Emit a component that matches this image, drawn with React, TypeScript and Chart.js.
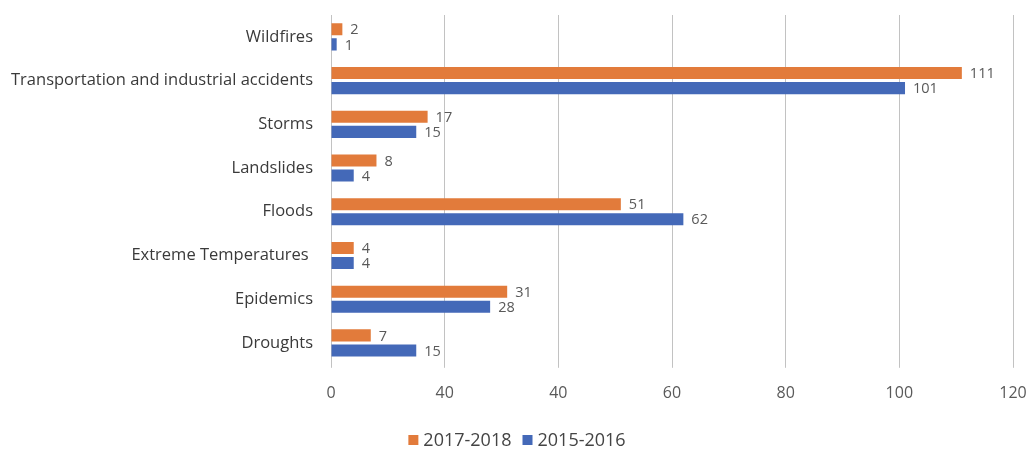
import React, { useEffect, useRef } from "react";
import { Chart, registerables } from "chart.js";

Chart.register(...registerables);

const categories = [
  "Wildfires",
  "Transportation and industrial accidents",
  "Storms",
  "Landslides",
  "Floods",
  "Extreme Temperatures ",
  "Epidemics",
  "Droughts",
];
const series2017_2018 = [2, 111, 17, 8, 51, 4, 31, 7];
const series2015_2016 = [1, 101, 15, 4, 62, 4, 28, 15];
const tickLabels = ["0", "40", "40", "60", "80", "100", "120"];
const seriesNames = ["2017-2018", "2015-2016"];
const seriesColors = ["#E27B3B", "#4469B8"];

const FONT = "'Open Sans', sans-serif";

const valueLabelsPlugin = {
  id: "valueLabels",
  afterDatasetsDraw(chart: any) {
    const ctx = chart.ctx;
    ctx.save();
    ctx.font = `14.5px ${FONT}`;
    ctx.fillStyle = "#595959";
    ctx.textAlign = "left";
    ctx.textBaseline = "middle";
    chart.data.datasets.forEach((ds: any, i: number) => {
      const meta = chart.getDatasetMeta(i);
      meta.data.forEach((el: any, j: number) => {
        ctx.fillText(String(ds.data[j]), el.x + 8, el.y + 1);
      });
    });
    ctx.restore();
  },
};

const customLegendPlugin = {
  id: "customLegend",
  afterDraw(chart: any) {
    const ctx = chart.ctx;
    ctx.save();
    ctx.font = `18px ${FONT}`;
    ctx.textBaseline = "middle";
    ctx.textAlign = "left";
    const box = 10;
    const boxGap = 5;
    const itemGap = 11;
    const widths = seriesNames.map((n) => box + boxGap + ctx.measureText(n).width);
    const total = widths.reduce((a, b) => a + b, 0) + itemGap * (widths.length - 1);
    const centerX = 517;
    const y = 440;
    let x = centerX - total / 2;
    seriesNames.forEach((n, i) => {
      ctx.fillStyle = seriesColors[i];
      ctx.fillRect(x, y - box / 2, box, box);
      ctx.fillStyle = "#444444";
      ctx.fillText(n, x + box + boxGap, y + 1);
      x += widths[i] + itemGap;
    });
    ctx.restore();
  },
};

export default function App() {
  const ref = useRef<HTMLCanvasElement | null>(null);
  useEffect(() => {
    if (!ref.current) return;
    const chart: any = new Chart(ref.current, {
      type: "bar",
      data: {
        labels: categories,
        datasets: [
          {
            label: seriesNames[0],
            data: series2017_2018,
            backgroundColor: seriesColors[0],
            categoryPercentage: 0.69,
            barPercentage: 0.8,
          },
          {
            label: seriesNames[1],
            data: series2015_2016,
            backgroundColor: seriesColors[1],
            categoryPercentage: 0.69,
            barPercentage: 0.8,
          },
        ],
      },
      options: {
        indexAxis: "y",
        animation: false,
        responsive: true,
        maintainAspectRatio: false,
        layout: { padding: { top: 15, right: 15, left: 0, bottom: 37 } },
        plugins: {
          legend: { display: false },
          tooltip: { enabled: false },
        },
        scales: {
          x: {
            type: "linear",
            min: 0,
            max: 120,
            ticks: {
              stepSize: 20,
              padding: 16,
              maxRotation: 0,
              color: "#595959",
              font: { family: FONT, size: 16 },
              callback: (_v: any, i: number) => tickLabels[i],
            },
            grid: { color: "#c2c2c2", lineWidth: 1, drawTicks: true, tickLength: 3 },
            border: { display: false },
            afterFit: (s: any) => {
              s.paddingLeft = 0;
              s.paddingRight = 0;
            },
          },
          y: {
            type: "category",
            ticks: {
              padding: 18,
              color: "#3a3a3a",
              font: { family: FONT, size: 16.5 },
            },
            grid: { display: false, drawTicks: false },
            border: { display: false },
            afterFit: (s: any) => {
              s.width = 331;
              s.paddingTop = 0;
              s.paddingBottom = 0;
            },
          },
        },
      },
      plugins: [valueLabelsPlugin, customLegendPlugin],
    } as any);
    return () => chart.destroy();
  }, []);
  return (
    <div style={{ position: "absolute", left: 0, top: 0, width: 1028, height: 456 }}>
      <canvas ref={ref} />
    </div>
  );
}
